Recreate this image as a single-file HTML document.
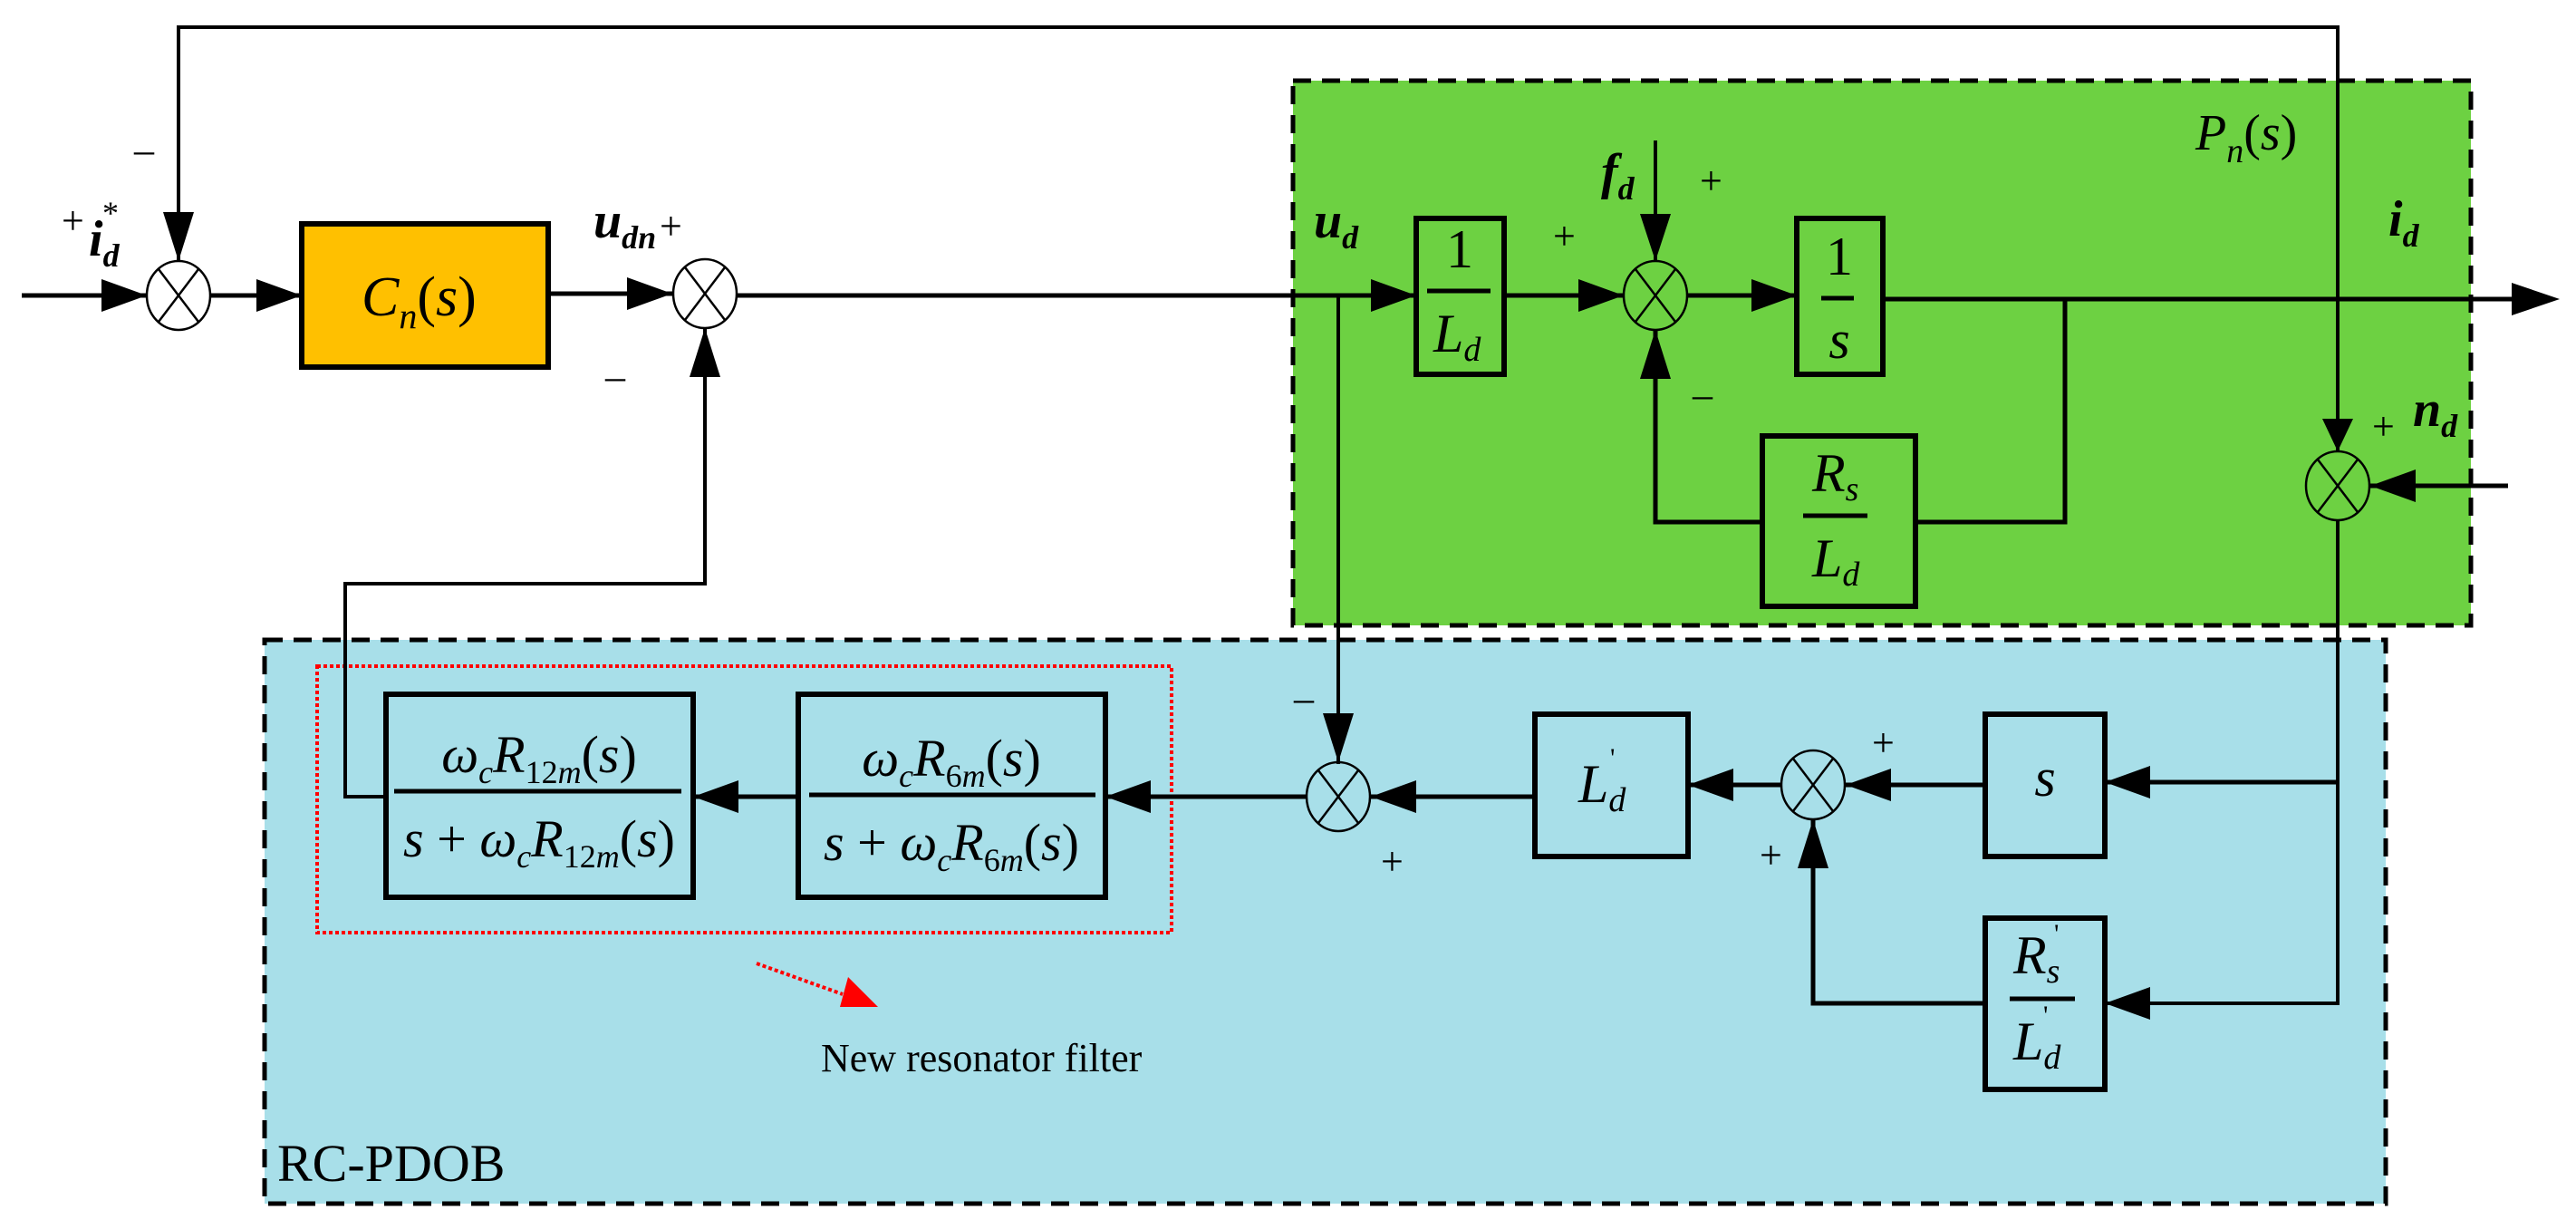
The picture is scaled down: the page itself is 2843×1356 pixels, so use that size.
<!DOCTYPE html>
<html><head><meta charset="utf-8"><style>
html,body{margin:0;padding:0;background:#fff;}
svg{display:block;}
text{font-family:"Liberation Serif",serif;fill:#000;}
.m{font-style:italic;}
</style></head><body>
<svg width="2843" height="1356" viewBox="0 0 2843 1356" xmlns="http://www.w3.org/2000/svg">
<rect x="1427" y="89" width="1300" height="601" fill="#6DD142" stroke="#000" stroke-width="5" stroke-dasharray="20,12"/>
<rect x="292" y="706" width="2341" height="622" fill="#A8DFE9" stroke="#000" stroke-width="5" stroke-dasharray="20,12"/>
<rect x="350" y="735" width="943" height="294" fill="none" stroke="#f00" stroke-width="4" stroke-dasharray="4,3"/>

<g stroke="#000" stroke-width="5" fill="none">
<polyline points="197,288 197,30 2580,30 2580,498" stroke-width="4"/>
<line x1="24" y1="326" x2="162" y2="326"/>
<line x1="232" y1="326" x2="333" y2="326"/>
<line x1="605" y1="324" x2="742" y2="324"/>
<line x1="814" y1="326" x2="1563" y2="326"/>
<line x1="1660" y1="326" x2="1792" y2="326"/>
<line x1="1862" y1="326" x2="1983" y2="326"/>
<line x1="2078" y1="330" x2="2780" y2="330"/>
<line x1="1827" y1="155" x2="1827" y2="288" stroke-width="4"/>
<polyline points="2279,330 2279,576 2114,576"/>
<polyline points="1945,576 1827,576 1827,364"/>
<line x1="2768" y1="536" x2="2616" y2="536"/>
<line x1="1477" y1="326" x2="1477" y2="843" stroke-width="4"/>
<polyline points="426,879 381,879 381,644 778,644 778,362" stroke-width="4"/>
<line x1="1513" y1="879" x2="1694" y2="879"/>
<line x1="1863" y1="866" x2="1965" y2="866"/>
<line x1="2037" y1="866" x2="2191" y2="866"/>
<line x1="765" y1="879" x2="881" y2="879"/>
<line x1="1220" y1="879" x2="1441" y2="879"/>
<polyline points="2580,574 2580,1107 2323,1107" stroke-width="4"/>
<line x1="2580" y1="863" x2="2323" y2="863"/>
<polyline points="2191,1107 2001,1107 2001,904"/>
</g>

<g stroke="#000" stroke-width="6">
<rect x="333" y="247" width="272" height="158" fill="#FFC000"/>
<rect x="1563" y="241" width="97" height="172" fill="none"/>
<rect x="1983" y="241" width="95" height="172" fill="none"/>
<rect x="1945" y="481" width="169" height="188" fill="none"/>
<rect x="426" y="766" width="339" height="224" fill="none"/>
<rect x="881" y="766" width="339" height="224" fill="none"/>
<rect x="1694" y="788" width="169" height="157" fill="none"/>
<rect x="2191" y="788" width="132" height="157" fill="none"/>
<rect x="2191" y="1013" width="132" height="189" fill="none"/>
</g>
<g stroke="#000" stroke-width="5">
<line x1="1575" y1="321" x2="1645" y2="321"/>
<line x1="2010" y1="329" x2="2046" y2="329"/>
<line x1="1990" y1="569" x2="2061" y2="569"/>
<line x1="435" y1="873" x2="752" y2="873"/>
<line x1="893" y1="877" x2="1209" y2="877"/>
<line x1="2218" y1="1102" x2="2290" y2="1102"/>
</g>

<g stroke="#000" stroke-width="2.5" fill="#fff">
<g transform="translate(197,326)"><ellipse rx="35" ry="38"/><line x1="-22" y1="-29" x2="22" y2="29"/><line x1="22" y1="-29" x2="-22" y2="29"/></g>
<g transform="translate(778,324)"><ellipse rx="35" ry="38"/><line x1="-22" y1="-29" x2="22" y2="29"/><line x1="22" y1="-29" x2="-22" y2="29"/></g>
</g>
<g stroke="#000" stroke-width="2.5" fill="none">
<g transform="translate(1827,326)"><ellipse rx="35" ry="38"/><line x1="-22" y1="-29" x2="22" y2="29"/><line x1="22" y1="-29" x2="-22" y2="29"/></g>
<g transform="translate(2580,536)"><ellipse rx="35" ry="38"/><line x1="-22" y1="-29" x2="22" y2="29"/><line x1="22" y1="-29" x2="-22" y2="29"/></g>
<g transform="translate(1477,879)"><ellipse rx="35" ry="38"/><line x1="-22" y1="-29" x2="22" y2="29"/><line x1="22" y1="-29" x2="-22" y2="29"/></g>
<g transform="translate(2001,866)"><ellipse rx="35" ry="38"/><line x1="-22" y1="-29" x2="22" y2="29"/><line x1="22" y1="-29" x2="-22" y2="29"/></g>
</g>

<g fill="#000">
<polygon points="162,326 112,308 112,344"/>
<polygon points="333,326 283,308 283,344"/>
<polygon points="742,324 692,306 692,342"/>
<polygon points="197,288 180,234 214,234"/>
<polygon points="778,362 761,416 795,416"/>
<polygon points="1563,326 1513,308 1513,344"/>
<polygon points="1792,326 1742,308 1742,344"/>
<polygon points="1983,326 1933,308 1933,344"/>
<polygon points="1827,288 1810,236 1844,236"/>
<polygon points="1827,364 1810,418 1844,418"/>
<polygon points="2825,330 2772,312 2772,348"/>
<polygon points="2580,498 2563,462 2597,462"/>
<polygon points="2616,536 2666,518 2666,554"/>
<polygon points="1477,841 1460,787 1494,787"/>
<polygon points="1513,879 1563,861 1563,897"/>
<polygon points="1863,866 1913,848 1913,884"/>
<polygon points="2037,866 2087,848 2087,884"/>
<polygon points="2001,904 1984,958 2018,958"/>
<polygon points="2323,863 2373,845 2373,881"/>
<polygon points="2323,1107 2373,1089 2373,1125"/>
<polygon points="765,879 815,861 815,897"/>
<polygon points="1220,879 1270,861 1270,897"/>
</g>

<line x1="835" y1="1063" x2="930" y2="1097" stroke="#f00" stroke-width="4" stroke-dasharray="4,3"/>
<polygon points="969,1111 927,1111 936,1078" fill="#f00"/>

<g font-size="44">
<text x="148" y="180">–</text>
<text x="68" y="258">+</text>
<text x="728" y="264">+</text>
<text x="668" y="430">–</text>
<text x="1714" y="275">+</text>
<text x="1876" y="214">+</text>
<text x="1868" y="450">–</text>
<text x="2618" y="485">+</text>
<text x="1428" y="785">–</text>
<text x="1524" y="965">+</text>
<text x="2066" y="834">+</text>
<text x="1942" y="958">+</text>
</g>
<g class="m" font-size="56">
<text x="98" y="282" font-weight="bold">i<tspan font-size="36" dy="12">d</tspan></text>
<text x="113" y="247" font-size="36" font-style="normal">*</text>
<text x="655" y="262" font-weight="bold">u<tspan font-size="36" dy="12">dn</tspan></text>
<text x="399" y="348" font-size="62">C<tspan font-size="40" dy="14">n</tspan><tspan font-style="normal" dy="-14">(</tspan>s<tspan font-style="normal">)</tspan></text>
<text x="1450" y="262" font-weight="bold">u<tspan font-size="36" dy="12">d</tspan></text>
<text x="1767" y="208" font-weight="bold">f<tspan font-size="36" dy="12">d</tspan></text>
<text x="2423" y="165">P<tspan font-size="38" dy="14">n</tspan><tspan font-style="normal" dy="-14">(</tspan>s<tspan font-style="normal">)</tspan></text>
<text x="2636" y="260" font-weight="bold">i<tspan font-size="36" dy="12">d</tspan></text>
<text x="2663" y="470" font-weight="bold">n<tspan font-size="36" dy="12">d</tspan></text>
</g>
<g class="m" font-size="60">
<text x="1611" y="295" text-anchor="middle" font-style="normal">1</text>
<text x="1582" y="388">L<tspan font-size="38" dy="10">d</tspan></text>
<text x="2030" y="303" text-anchor="middle" font-style="normal">1</text>
<text x="2030" y="395" text-anchor="middle">s</text>
<text x="2000" y="542">R<tspan font-size="38" dy="10">s</tspan></text>
<text x="2000" y="636">L<tspan font-size="38" dy="10">d</tspan></text>
<text x="1742" y="885">L<tspan font-size="38" dy="10">d</tspan></text>
<text x="1777" y="846" font-size="30" font-style="normal">'</text>
<text x="2257" y="878" text-anchor="middle">s</text>
<text x="2222" y="1074">R<tspan font-size="38" dy="10">s</tspan></text>
<text x="2267" y="1040" font-size="30" font-style="normal">'</text>
<text x="2222" y="1169">L<tspan font-size="38" dy="10">d</tspan></text>
<text x="2255" y="1130" font-size="30" font-style="normal">'</text>
</g>
<g class="m" font-size="58">
<text x="595" y="852" text-anchor="middle">ω<tspan font-size="36" dy="12">c</tspan><tspan dy="-12">R</tspan><tspan font-size="36" dy="12" font-style="normal">12</tspan><tspan font-size="36">m</tspan><tspan font-style="normal" dy="-12">(</tspan>s<tspan font-style="normal">)</tspan></text>
<text x="595" y="945" text-anchor="middle">s <tspan font-style="normal">+</tspan> ω<tspan font-size="36" dy="12">c</tspan><tspan dy="-12">R</tspan><tspan font-size="36" dy="12" font-style="normal">12</tspan><tspan font-size="36">m</tspan><tspan font-style="normal" dy="-12">(</tspan>s<tspan font-style="normal">)</tspan></text>
<text x="1050" y="856" text-anchor="middle">ω<tspan font-size="36" dy="12">c</tspan><tspan dy="-12">R</tspan><tspan font-size="36" dy="12" font-style="normal">6</tspan><tspan font-size="36">m</tspan><tspan font-style="normal" dy="-12">(</tspan>s<tspan font-style="normal">)</tspan></text>
<text x="1050" y="949" text-anchor="middle">s <tspan font-style="normal">+</tspan> ω<tspan font-size="36" dy="12">c</tspan><tspan dy="-12">R</tspan><tspan font-size="36" dy="12" font-style="normal">6</tspan><tspan font-size="36">m</tspan><tspan font-style="normal" dy="-12">(</tspan>s<tspan font-style="normal">)</tspan></text>
</g>
<text x="906" y="1182" font-size="44">New resonator filter</text>
<text x="306" y="1303" font-size="58">RC-PDOB</text>
</svg>
</body></html>
